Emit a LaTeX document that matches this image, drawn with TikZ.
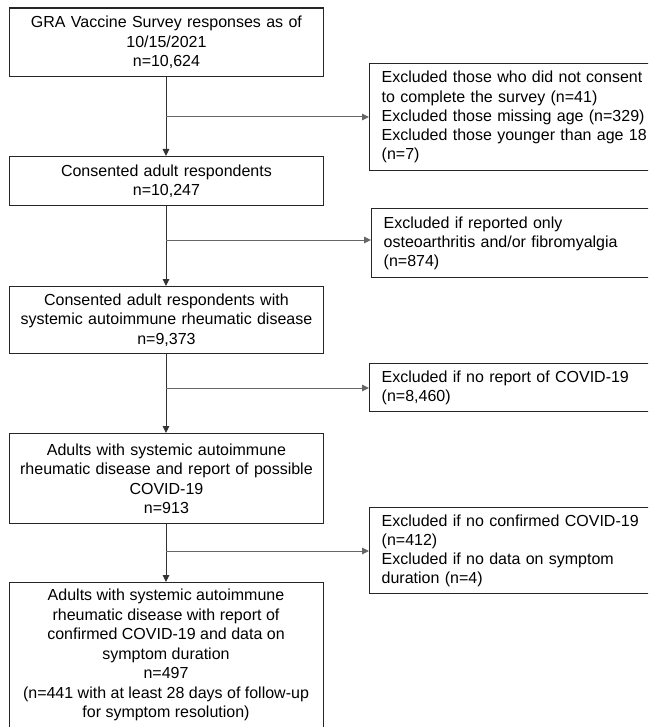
\documentclass[tikz,border=0pt]{standalone}
\usepackage{fontspec}
\setmainfont{Liberation Sans}
\usetikzlibrary{arrows.meta,positioning,calc}
\tikzset{
  mainbox/.style={draw=black!85, line width=1.4pt, anchor=north west, minimum width=313.5pt,
    text width=300pt, align=center, inner sep=0pt, font=\fontsize{16}{19.4}\selectfont},
  exbox/.style={draw=black!85, line width=1.4pt, anchor=north west, minimum width=290pt,
    text width=266pt, align=left, inner xsep=11pt, inner ysep=0pt, font=\fontsize{16}{19.2}\selectfont},
  flow/.style={draw=black!80, line width=1pt, -{Triangle[length=7pt,width=6.5pt]}},
  branch/.style={draw=black!60, line width=1pt, -{Triangle[length=7pt,width=6.5pt]}},
}
\begin{document}
\begin{tikzpicture}[x=1pt,y=-1pt]
\useasboundingbox (0,0) rectangle (648,727);
\fill[white] (0,0) rectangle (648,727);
\begin{scope}
\clip (0,0) rectangle (648,727);
% main boxes
\node[mainbox, minimum height=68.7pt] (b1) at (9,7.3) {GRA Vaccine Survey responses as of\\10/15/2021\\n=10,624};
\node[mainbox, minimum height=49pt] (b2) at (9,156) {Consented adult respondents\\n=10,247};
\node[mainbox, minimum height=67pt] (b3) at (9,286) {Consented adult respondents with\\systemic autoimmune rheumatic disease\\n=9,373};
\node[mainbox, minimum height=90pt] (b4) at (9,433) {Adults with systemic autoimmune\\rheumatic disease and report of possible\\COVID-19\\n=913};
\node[mainbox, minimum height=150pt, text height=0pt] (b5) at (9,582) {};
\node[font=\fontsize{16}{19.5}\selectfont, align=center, anchor=north, inner sep=0pt] (b5t) at (166,589) {Adults with systemic autoimmune\\rheumatic disease with report of\\confirmed COVID-19 and data on\\symptom duration\\n=497\\(n=441 with at least 28 days of follow-up\\for symptom resolution)};
% exclusion boxes
\node[exbox, minimum height=107pt] (r1) at (369,63) {Excluded those who did not consent\\to complete the survey (n=41)\\Excluded those missing age (n=329)\\Excluded those younger than age 18\\(n=7)};
\node[exbox, minimum height=69pt] (r2) at (371,208) {Excluded if reported only\\osteoarthritis and/or fibromyalgia\\(n=874)};
\node[exbox, minimum height=48pt] (r3) at (369,363) {Excluded if no report of COVID-19\\(n=8,460)};
\node[exbox, minimum height=86pt] (r4) at (369,507) {Excluded if no confirmed COVID-19\\(n=412)\\Excluded if no data on symptom\\duration (n=4)};
% junctions
\coordinate (j1) at (166,117);
\coordinate (j2) at (166,240);
\coordinate (j3) at (166,388);
\coordinate (j4) at (166,551);
% flow
\draw[flow] (b1.south -| j1) -- (b2.north -| j1);
\draw[flow] (b2.south -| j2) -- (b3.north -| j2);
\draw[flow] (b3.south -| j3) -- (b4.north -| j3);
\draw[flow] (b4.south -| j4) -- (b5.north -| j4);
% branches
\draw[branch] (j1) -- (j1 -| r1.west);
\draw[branch] (j2) -- (j2 -| r2.west);
\draw[branch] (j3) -- (j3 -| r3.west);
\draw[branch] (j4) -- (j4 -| r4.west);
\end{scope}
\end{tikzpicture}
\end{document}
